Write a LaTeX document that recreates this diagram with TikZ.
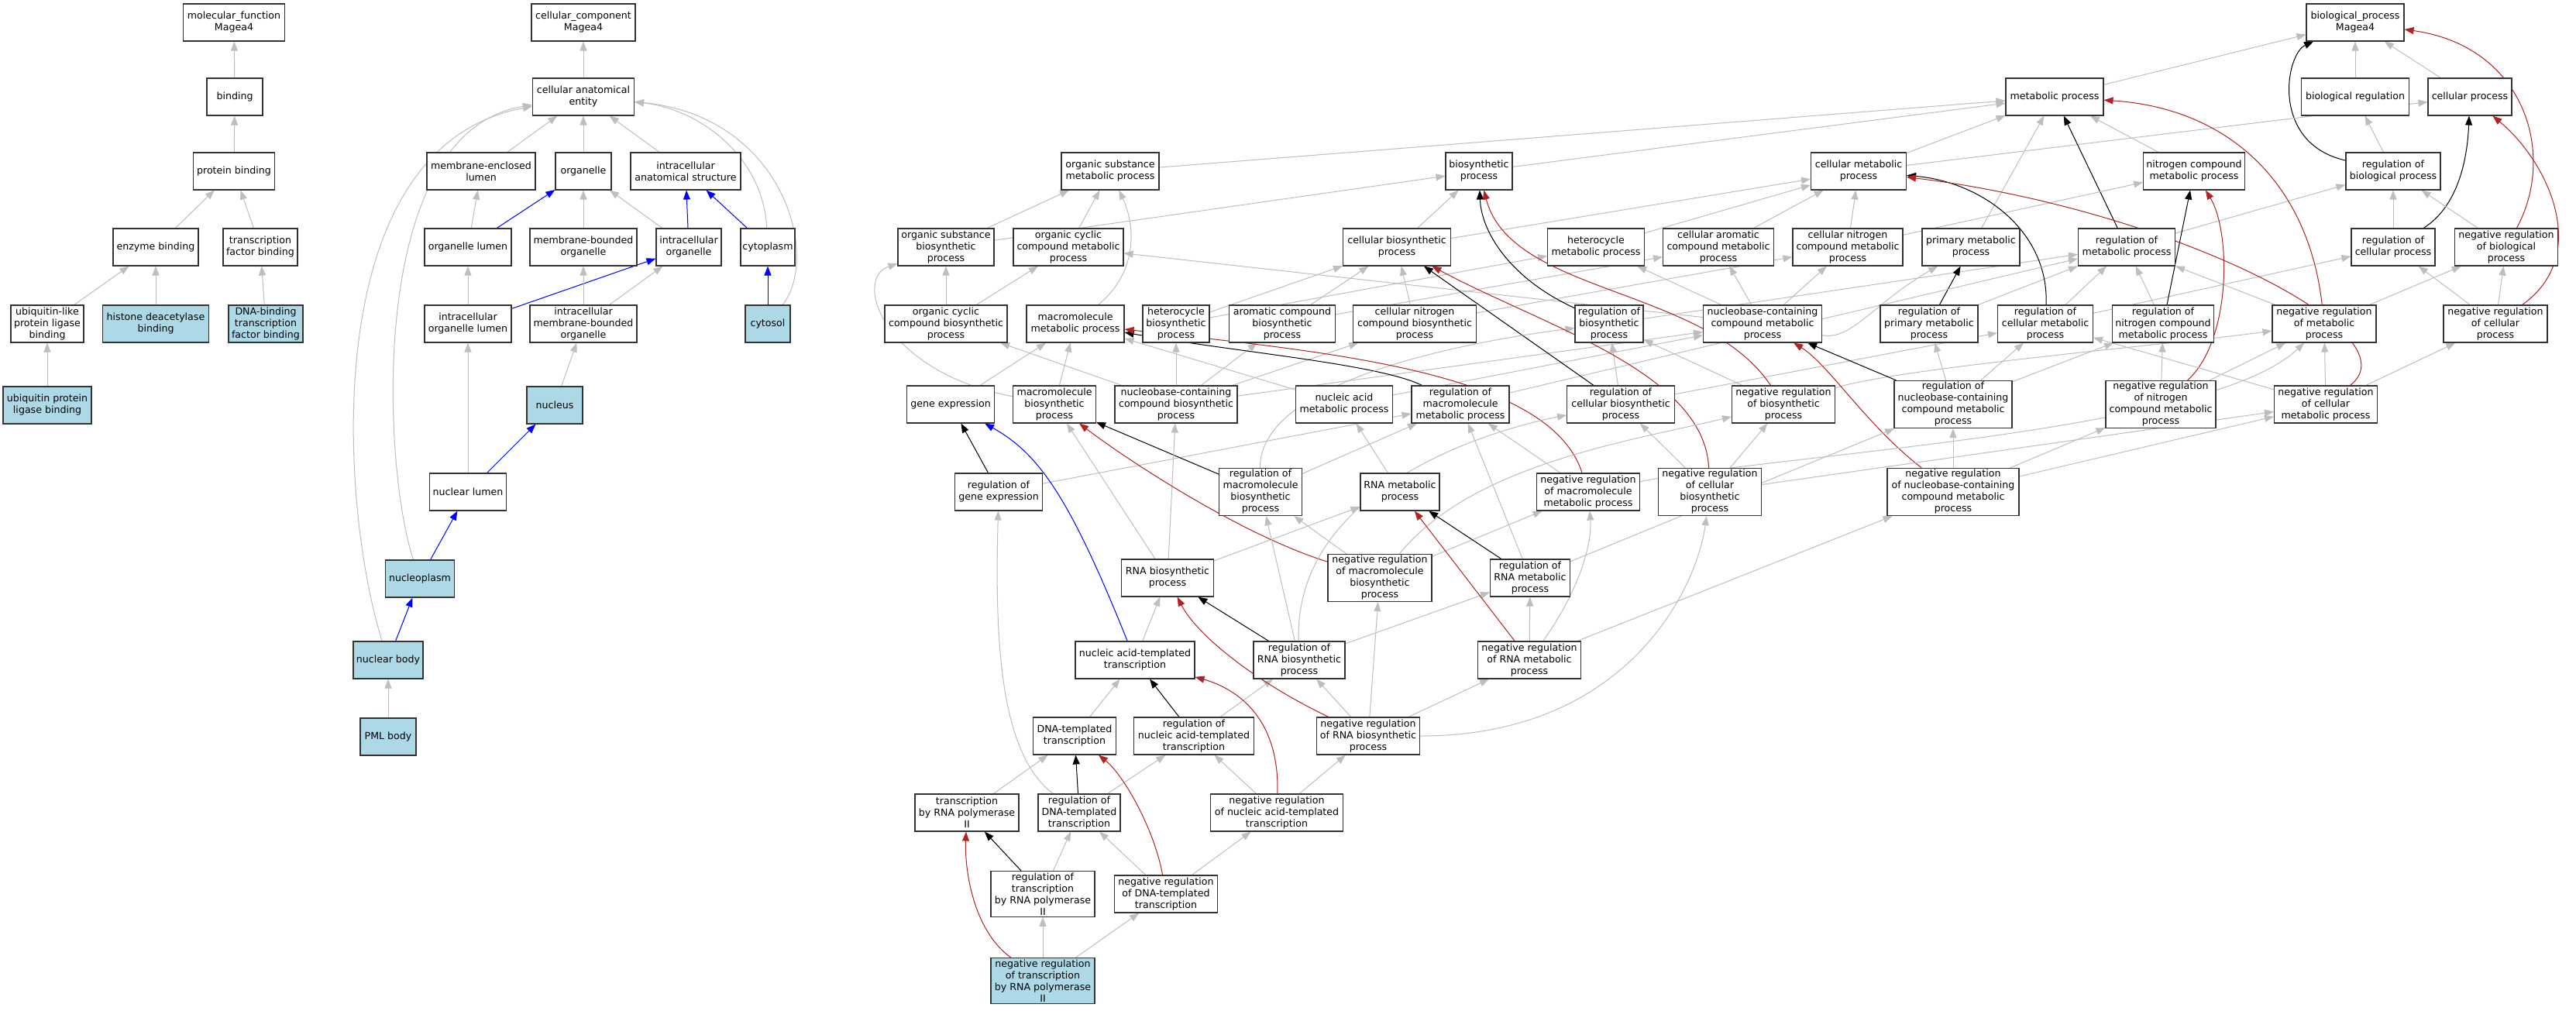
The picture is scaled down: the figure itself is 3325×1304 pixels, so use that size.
\documentclass[tikz,border=0pt]{standalone}
\usepackage{fontspec}
\setmainfont{DejaVu Sans}
\usepackage{tikz}
\usetikzlibrary{arrows.meta}
\definecolor{lightblue}{HTML}{ADD8E6}
\definecolor{edgegray}{HTML}{BEBEBE}
\definecolor{firebrick}{HTML}{B22222}
\pgfdeclarelayer{bg}
\pgfsetlayers{bg,main}

\begin{document}
\begin{tikzpicture}[x=1pt, y=-1pt,
main/.style = {draw=black!80, line width=1.1pt, fill=white, align=center, inner xsep=2pt, inner ysep=2pt, minimum height=48pt, font=\fontsize{12.6}{15}\selectfont},
anno/.style = {main, fill=lightblue},
isa/.style = {draw=edgegray, line width=1pt, -{Triangle[length=12pt,width=9pt]}},
reg/.style = {isa, draw=black},
negreg/.style = {isa, draw=firebrick},
partof/.style = {isa, draw=blue}]
\useasboundingbox (0,0) rectangle (3325,1304);
\node[main, minimum width=131pt] (1) at (302,29) {molecular\_function\\Magea4};
\node[main, minimum width=72pt] (2) at (303,125) {binding};
\node[main, minimum width=105pt] (3) at (302,221) {protein binding};
\node[main, minimum width=110pt] (4) at (201,319) {enzyme binding};
\node[main, minimum width=96pt] (5) at (336,319) {transcription\\factor binding};
\node[main, minimum width=94pt] (6) at (61,418) {ubiquitin-like\\protein ligase\\binding};
\node[anno, minimum width=137pt] (7) at (201,418) {histone deacetylase\\binding};
\node[anno, minimum width=96pt] (8) at (343,418) {DNA-binding\\transcription\\factor binding};
\node[anno, minimum width=114pt] (9) at (61,523) {ubiquitin protein\\ligase binding};
\node[main, minimum width=134pt] (10) at (753,29) {cellular\_component\\Magea4};
\node[main, minimum width=131pt] (11) at (753,125) {cellular anatomical\\entity};
\node[main, minimum width=140pt] (12) at (621,221) {membrane-enclosed\\lumen};
\node[main, minimum width=72pt] (13) at (753,221) {organelle};
\node[main, minimum width=142pt] (14) at (885,221) {intracellular\\anatomical structure};
\node[main, minimum width=112pt] (15) at (604,319) {organelle lumen};
\node[main, minimum width=138pt] (16) at (753,319) {membrane-bounded\\organelle};
\node[main, minimum width=84pt] (17) at (889,319) {intracellular\\organelle};
\node[main, minimum width=70pt] (18) at (991,319) {cytoplasm};
\node[main, minimum width=112pt] (19) at (604,418) {intracellular\\organelle lumen};
\node[main, minimum width=138pt] (20) at (753,418) {intracellular\\membrane-bounded\\organelle};
\node[anno, minimum width=58pt] (21) at (991,418) {cytosol};
\node[anno, minimum width=72pt] (22) at (716,523) {nucleus};
\node[main, minimum width=99pt] (23) at (604,635) {nuclear lumen};
\node[anno, minimum width=89pt] (24) at (542,747) {nucleoplasm};
\node[anno, minimum width=90pt] (25) at (501,852) {nuclear body};
\node[anno, minimum width=72pt] (26) at (501,951) {PML body};
\node[main, minimum width=126pt] (27) at (3040,29) {biological\_process\\Magea4};
\node[main, minimum width=139pt] (28) at (3040,125) {biological regulation};
\node[main, minimum width=108pt] (29) at (3188,125) {cellular process};
\node[main, minimum width=126pt] (30) at (2652,125) {metabolic process};
\node[main, minimum width=122pt] (31) at (3089,221) {regulation of\\biological process};
\node[main, minimum width=123pt] (32) at (2399,221) {cellular metabolic\\process};
\node[main, minimum width=131pt] (33) at (2832,221) {nitrogen compound\\metabolic process};
\node[main, minimum width=86pt] (34) at (1909,221) {biosynthetic\\process};
\node[main, minimum width=126pt] (35) at (1433,221) {organic substance\\metabolic process};
\node[main, minimum width=108pt] (36) at (3089,319) {regulation of\\cellular process};
\node[main, minimum width=133pt] (37) at (3235,319) {negative regulation\\of biological\\process};
\node[main, minimum width=142pt] (38) at (2385,319) {cellular nitrogen\\compound metabolic\\process};
\node[main, minimum width=126pt] (39) at (2544,319) {primary metabolic\\process};
\node[main, minimum width=125pt] (40) at (2745,319) {regulation of\\metabolic process};
\node[main, minimum width=139pt] (41) at (1803,319) {cellular biosynthetic\\process};
\node[main, minimum width=125pt] (42) at (2060,319) {heterocycle\\metabolic process};
\node[main, minimum width=143pt] (43) at (2218,319) {cellular aromatic\\compound metabolic\\process};
\node[main, minimum width=124pt] (44) at (1221,319) {organic substance\\biosynthetic\\process};
\node[main, minimum width=142pt] (45) at (1379,319) {organic cyclic\\compound metabolic\\process};
\node[main, minimum width=134pt] (46) at (3000,418) {negative regulation\\of metabolic\\process};
\node[main, minimum width=134pt] (47) at (3221,418) {negative regulation\\of cellular\\process};
\node[main, minimum width=126pt] (48) at (2490,418) {regulation of\\primary metabolic\\process};
\node[main, minimum width=123pt] (49) at (2640,418) {regulation of\\cellular metabolic\\process};
\node[main, minimum width=131pt] (50) at (2792,418) {regulation of\\nitrogen compound\\metabolic process};
\node[main, minimum width=153pt] (51) at (2275,418) {nucleobase-containing\\compound metabolic\\process};
\node[main, minimum width=88pt] (52) at (2077,418) {regulation of\\biosynthetic\\process};
\node[main, minimum width=159pt] (53) at (1826,418) {cellular nitrogen\\compound biosynthetic\\process};
\node[main, minimum width=137pt] (54) at (1655,418) {aromatic compound\\biosynthetic\\process};
\node[main, minimum width=86pt] (55) at (1518,418) {heterocycle\\biosynthetic\\process};
\node[main, minimum width=126pt] (56) at (1388,418) {macromolecule\\metabolic process};
\node[main, minimum width=158pt] (57) at (1221,418) {organic cyclic\\compound biosynthetic\\process};
\node[main, minimum width=133pt] (58) at (3002,522) {negative regulation\\of cellular\\metabolic process};
\node[main, minimum width=152pt] (59) at (2521,522) {regulation of\\nucleobase-containing\\compound metabolic\\process};
\node[main, minimum width=142pt] (60) at (2789,522) {negative regulation\\of nitrogen\\compound metabolic\\process};
\node[main, minimum width=133pt] (61) at (2302,522) {negative regulation\\of biosynthetic\\process};
\node[main, minimum width=139pt] (62) at (2092,522) {regulation of\\cellular biosynthetic\\process};
\node[main, minimum width=126pt] (63) at (1885,522) {regulation of\\macromolecule\\metabolic process};
\node[main, minimum width=125pt] (64) at (1735,522) {nucleic acid\\metabolic process};
\node[main, minimum width=158pt] (65) at (1518,522) {nucleobase-containing\\compound biosynthetic\\process};
\node[main, minimum width=107pt] (66) at (1361,522) {macromolecule\\biosynthetic\\process};
\node[main, minimum width=113pt] (67) at (1227,522) {gene expression};
\node[main, minimum width=170pt] (68) at (2521,635) {negative regulation\\of nucleobase-containing\\compound metabolic\\process};
\node[main, minimum width=113pt] (69) at (1289,635) {regulation of\\gene expression};
\node[main, minimum width=107pt] (70) at (1627,635) {regulation of\\macromolecule\\biosynthetic\\process};
\node[main, minimum width=102pt] (71) at (1807,635) {RNA metabolic\\process};
\node[main, minimum width=133pt] (72) at (2050,635) {negative regulation\\of macromolecule\\metabolic process};
\node[main, minimum width=133pt] (73) at (2207,635) {negative regulation\\of cellular\\biosynthetic\\process};
\node[main, minimum width=119pt] (74) at (1507,746) {RNA biosynthetic\\process};
\node[main, minimum width=134pt] (75) at (1781,746) {negative regulation\\of macromolecule\\biosynthetic\\process};
\node[main, minimum width=103pt] (76) at (1975,746) {regulation of\\RNA metabolic\\process};
\node[main, minimum width=154pt] (77) at (1465,852) {nucleic acid-templated\\transcription};
\node[main, minimum width=118pt] (78) at (1677,852) {regulation of\\RNA biosynthetic\\process};
\node[main, minimum width=133pt] (79) at (1974,852) {negative regulation\\of RNA metabolic\\process};
\node[main, minimum width=107pt] (80) at (1387,950) {DNA-templated\\transcription};
\node[main, minimum width=155pt] (81) at (1541,950) {regulation of\\nucleic acid-templated\\transcription};
\node[main, minimum width=133pt] (82) at (1766,950) {negative regulation\\of RNA biosynthetic\\process};
\node[main, minimum width=134pt] (83) at (1248,1049) {transcription\\by RNA polymerase\\II};
\node[main, minimum width=106pt] (84) at (1393,1049) {regulation of\\DNA-templated\\transcription};
\node[main, minimum width=171pt] (85) at (1648,1049) {negative regulation\\of nucleic acid-templated\\transcription};
\node[main, minimum width=134pt] (86) at (1346,1154) {regulation of\\transcription\\by RNA polymerase\\II};
\node[main, minimum width=133pt] (87) at (1505,1154) {negative regulation\\of DNA-templated\\transcription};
\node[anno, minimum width=134pt] (88) at (1346,1266) {negative regulation\\of transcription\\by RNA polymerase\\II};
\begin{pgfonlayer}{bg}
\fill[white] (0,0) rectangle (3325,1304);
\draw[isa] (2) -- (1);
\draw[isa] (3) -- (2);
\draw[isa] (4) -- (3);
\draw[isa] (5) -- (3);
\draw[isa] (6) -- (4);
\draw[isa] (7) -- (4);
\draw[isa] (8) -- (5);
\draw[isa] (9) -- (6);
\draw[isa] (11) -- (10);
\draw[isa] (12) -- (11);
\draw[isa] (13) -- (11);
\draw[isa] (14) -- (11);
\draw[isa] (15) -- (12);
\draw[partof] (15) -- (13);
\draw[isa] (16) -- (13);
\draw[isa] (17) -- (13);
\draw[partof] (17) -- (14);
\draw[partof] (18) -- (14);
\draw[isa] (18) .. controls (985,200) and (900,140) .. (11);
\draw[isa] (21) .. controls (1060,330) and (1010,150) .. (11);
\draw[partof] (21) -- (18);
\draw[isa] (19) -- (15);
\draw[partof] (19) -- (17);
\draw[isa] (20) -- (16);
\draw[isa] (20) -- (17);
\draw[isa] (22) -- (20);
\draw[isa] (23) -- (19);
\draw[partof] (23) -- (22);
\draw[partof] (24) -- (23);
\draw[isa] (24) .. controls (495,610) and (470,170) .. (11);
\draw[partof] (25) -- (24);
\draw[isa] (25) .. controls (440,660) and (405,190) .. (11);
\draw[isa] (26) -- (25);
\draw[isa] (28) -- (27);
\draw[isa] (29) -- (27);
\draw[isa] (30) -- (27);
\draw[isa] (31) -- (28);
\draw[reg] (31) .. controls (2930,185) and (2950,70) .. (27);
\draw[isa] (36) -- (31);
\draw[reg] (36) .. controls (3175,265) and (3185,200) .. (29);
\draw[isa] (37) -- (31);
\draw[negreg] (37) .. controls (3300,200) and (3260,60) .. (27);
\draw[isa] (47) -- (36);
\draw[isa] (47) -- (37);
\draw[negreg] (47) .. controls (3345,330) and (3290,210) .. (29);
\draw[isa] (32) -- (30);
\draw[isa] (32) -- (29);
\draw[isa] (33) -- (30);
\draw[isa] (39) -- (30);
\draw[isa] (35) -- (30);
\draw[isa] (34) -- (30);
\draw[reg] (40) -- (30);
\draw[isa] (40) -- (31);
\draw[isa] (38) -- (33);
\draw[isa] (38) -- (32);
\draw[isa] (42) -- (32);
\draw[isa] (43) -- (32);
\draw[isa] (41) -- (34);
\draw[isa] (41) -- (32);
\draw[isa] (44) -- (35);
\draw[isa] (44) -- (34);
\draw[isa] (45) -- (35);
\draw[isa] (57) -- (44);
\draw[isa] (57) -- (45);
\draw[isa] (56) .. controls (1470,350) and (1465,290) .. (35);
\draw[isa] (55) -- (42);
\draw[isa] (55) -- (41);
\draw[isa] (54) -- (41);
\draw[isa] (54) -- (43);
\draw[isa] (53) -- (41);
\draw[isa] (53) -- (38);
\draw[isa] (51) -- (42);
\draw[isa] (51) -- (43);
\draw[isa] (51) -- (38);
\draw[isa] (51) -- (45);
\draw[isa] (51) .. controls (2390,440) and (2420,390) .. (39);
\draw[reg] (52) .. controls (1950,360) and (1912,300) .. (34);
\draw[isa] (52) -- (40);
\draw[reg] (48) -- (39);
\draw[isa] (48) -- (40);
\draw[reg] (49) .. controls (2645,300) and (2560,235) .. (32);
\draw[isa] (49) -- (40);
\draw[isa] (49) -- (36);
\draw[reg] (50) -- (33);
\draw[isa] (50) -- (40);
\draw[negreg] (46) .. controls (2980,240) and (2880,140) .. (30);
\draw[isa] (46) -- (40);
\draw[isa] (46) -- (37);
\draw[isa] (67) -- (56);
\draw[isa] (66) -- (56);
\draw[isa] (66) .. controls (1140,480) and (1100,360) .. (44);
\draw[isa] (65) -- (57);
\draw[isa] (65) -- (55);
\draw[isa] (65) -- (54);
\draw[isa] (65) -- (53);
\draw[isa] (65) -- (51);
\draw[isa] (64) -- (51);
\draw[isa] (64) -- (56);
\draw[reg] (63) .. controls (1780,470) and (1600,455) .. (56);
\draw[isa] (63) -- (40);
\draw[reg] (62) -- (41);
\draw[isa] (62) -- (52);
\draw[isa] (62) -- (49);
\draw[negreg] (61) .. controls (2200,370) and (1950,380) .. (34);
\draw[isa] (61) -- (52);
\draw[isa] (61) .. controls (2450,475) and (2800,445) .. (46);
\draw[reg] (59) -- (51);
\draw[isa] (59) -- (49);
\draw[isa] (59) -- (50);
\draw[isa] (59) -- (48);
\draw[negreg] (60) .. controls (2880,440) and (2880,300) .. (33);
\draw[isa] (60) -- (50);
\draw[isa] (60) -- (46);
\draw[negreg] (58) .. controls (3120,430) and (2800,270) .. (32);
\draw[isa] (58) -- (49);
\draw[isa] (58) -- (47);
\draw[isa] (58) -- (46);
\draw[negreg] (68) .. controls (2410,550) and (2360,470) .. (51);
\draw[isa] (68) -- (59);
\draw[isa] (68) -- (60);
\draw[isa] (68) -- (58);
\draw[reg] (69) -- (67);
\draw[isa] (69) -- (63);
\draw[reg] (70) -- (66);
\draw[isa] (70) -- (63);
\draw[isa] (70) .. controls (1625,490) and (1900,440) .. (52);
\draw[isa] (71) -- (64);
\draw[negreg] (72) .. controls (2000,480) and (1720,455) .. (56);
\draw[isa] (72) -- (63);
\draw[isa] (72) .. controls (2300,585) and (2850,560) .. (46);
\draw[negreg] (73) .. controls (2200,480) and (1990,420) .. (41);
\draw[isa] (73) -- (62);
\draw[isa] (73) -- (61);
\draw[isa] (73) -- (58);
\draw[isa] (74) -- (71);
\draw[isa] (74) -- (66);
\draw[isa] (74) -- (65);
\draw[negreg] (75) .. controls (1600,690) and (1450,590) .. (66);
\draw[isa] (75) -- (70);
\draw[isa] (75) -- (72);
\draw[isa] (75) .. controls (1900,600) and (2100,570) .. (61);
\draw[reg] (76) -- (71);
\draw[isa] (76) -- (63);
\draw[isa] (76) -- (59);
\draw[isa] (77) -- (74);
\draw[partof] (77) .. controls (1380,640) and (1340,585) .. (67);
\draw[reg] (78) -- (74);
\draw[isa] (78) -- (76);
\draw[isa] (78) -- (70);
\draw[isa] (78) .. controls (1670,640) and (1900,560) .. (62);
\draw[negreg] (79) -- (71);
\draw[isa] (79) -- (76);
\draw[isa] (79) .. controls (2040,760) and (2055,700) .. (72);
\draw[isa] (79) -- (68);
\draw[isa] (80) -- (77);
\draw[reg] (81) -- (77);
\draw[isa] (81) -- (78);
\draw[negreg] (82) .. controls (1620,880) and (1545,820) .. (74);
\draw[isa] (82) -- (78);
\draw[isa] (82) -- (79);
\draw[isa] (82) -- (75);
\draw[isa] (82) .. controls (2100,950) and (2190,760) .. (73);
\draw[isa] (83) -- (80);
\draw[reg] (84) -- (80);
\draw[isa] (84) -- (81);
\draw[isa] (84) .. controls (1285,970) and (1285,800) .. (69);
\draw[negreg] (85) .. controls (1652,930) and (1600,890) .. (77);
\draw[isa] (85) -- (81);
\draw[isa] (85) -- (82);
\draw[reg] (86) -- (83);
\draw[isa] (86) -- (84);
\draw[negreg] (87) .. controls (1490,1070) and (1450,1000) .. (80);
\draw[isa] (87) -- (84);
\draw[isa] (87) -- (85);
\draw[negreg] (88) .. controls (1255,1200) and (1245,1120) .. (83);
\draw[isa] (88) -- (86);
\draw[isa] (88) -- (87);
\end{pgfonlayer}
\end{tikzpicture}
\end{document}
